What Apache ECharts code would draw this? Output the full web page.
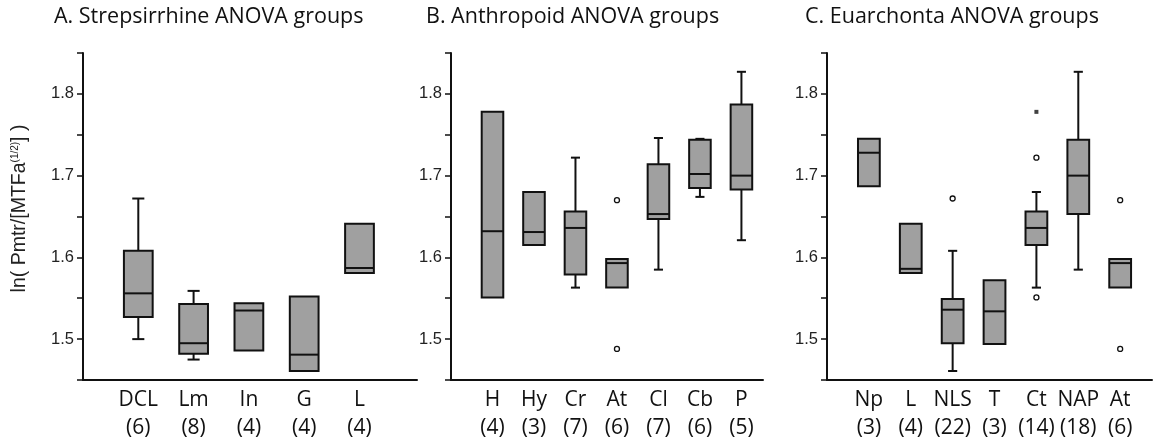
<!DOCTYPE html>
<html>
<head>
<meta charset="utf-8">
<script src="https://cdn.jsdelivr.net/npm/echarts@6/dist/echarts.min.js"></script>
<style>
  html, body { margin: 0; padding: 0; background: #fff; }
  #chart { width: 1153px; height: 444px; }
</style>
</head>
<body>
<div id="chart"></div>
<script>
// group names and sample sizes
const groupsA = ['DCL', 'Lm', 'In', 'G', 'L']
const countsA = [6, 8, 4, 4, 4]
const groupsB = ['H', 'Hy', 'Cr', 'At', 'Cl', 'Cb', 'P']
const countsB = [4, 3, 7, 6, 7, 6, 5]
const groupsC = ['Np', 'L', 'NLS', 'T', 'Ct', 'NAP', 'At']
const countsC = [3, 4, 22, 3, 14, 18, 6]

// [low whisker, Q1, median, Q3, high whisker]
const statsA = [
  [1.500, 1.527, 1.556, 1.608, 1.672],
  [1.475, 1.482, 1.495, 1.543, 1.559],
  [1.486, 1.486, 1.535, 1.544, 1.544],
  [1.461, 1.461, 1.481, 1.552, 1.552],
  [1.581, 1.581, 1.587, 1.641, 1.641],
]
const statsB = [
  [1.551, 1.551, 1.632, 1.778, 1.778],
  [1.615, 1.615, 1.631, 1.680, 1.680],
  [1.563, 1.579, 1.636, 1.656, 1.722],
  [1.563, 1.563, 1.593, 1.598, 1.598],
  [1.585, 1.647, 1.653, 1.714, 1.746],
  [1.674, 1.685, 1.702, 1.744, 1.745],
  [1.621, 1.683, 1.700, 1.787, 1.827],
]
const statsC = [
  [1.687, 1.687, 1.728, 1.745, 1.745],
  [1.581, 1.581, 1.586, 1.641, 1.641],
  [1.461, 1.495, 1.536, 1.549, 1.608],
  [1.494, 1.494, 1.534, 1.572, 1.572],
  [1.563, 1.615, 1.636, 1.656, 1.680],
  [1.585, 1.653, 1.700, 1.744, 1.827],
  [1.563, 1.563, 1.593, 1.598, 1.598],
]

// outliers: [group index, value]
const outliersB = [[3, 1.670], [3, 1.488]]
const outliersC = [[2, 1.672], [4, 1.722], [4, 1.551], [6, 1.670], [6, 1.488]]
const extremesC = [[4, 1.778]]

const yTicks = [1.5, 1.6, 1.7, 1.8]

const titles = [
  'A. Strepsirrhine ANOVA groups',
  'B. Anthropoid ANOVA groups',
  'C. Euarchonta ANOVA groups',
]

const INK = '#111'
const BOX_FILL = '#a0a0a0'

const panels = [
  { groups: groupsA, counts: countsA, stats: statsA, outliers: [], extremes: [],
    grid: { left: 83, top: 53, width: 334, height: 327 }, xMax: 6.04 },
  { groups: groupsB, counts: countsB, stats: statsB, outliers: outliersB, extremes: [],
    grid: { left: 451, top: 53, width: 312, height: 327 }, xMax: 7.52 },
  { groups: groupsC, counts: countsC, stats: statsC, outliers: outliersC, extremes: extremesC,
    grid: { left: 827, top: 53, width: 325, height: 327 }, xMax: 7.76 },
]

function renderBox(params, api) {
  const x = api.value(0)
  const lo = api.value(1), q1 = api.value(2), med = api.value(3), q3 = api.value(4), hi = api.value(5)
  const cx = api.coord([x, med])[0]
  const unit = api.size([1, 0])[0]
  const half = unit * 0.26
  const cap = half * 0.42
  const yLo = api.coord([x, lo])[1]
  const yQ1 = api.coord([x, q1])[1]
  const yMed = api.coord([x, med])[1]
  const yQ3 = api.coord([x, q3])[1]
  const yHi = api.coord([x, hi])[1]
  const line = { stroke: INK, lineWidth: 2 }
  const children = []
  if (hi > q3) {
    children.push({ type: 'line', shape: { x1: cx, y1: yHi, x2: cx, y2: yQ3 }, style: line })
    children.push({ type: 'line', shape: { x1: cx - cap, y1: yHi, x2: cx + cap, y2: yHi }, style: line })
  }
  if (lo < q1) {
    children.push({ type: 'line', shape: { x1: cx, y1: yQ1, x2: cx, y2: yLo }, style: line })
    children.push({ type: 'line', shape: { x1: cx - cap, y1: yLo, x2: cx + cap, y2: yLo }, style: line })
  }
  children.push({
    type: 'rect',
    shape: { x: cx - half, y: yQ3, width: half * 2, height: yQ1 - yQ3 },
    style: { fill: BOX_FILL, stroke: INK, lineWidth: 2 },
  })
  children.push({ type: 'line', shape: { x1: cx - half, y1: yMed, x2: cx + half, y2: yMed }, style: line })
  return { type: 'group', children }
}

const grid = [], xAxis = [], yAxis = [], series = [], title = []

panels.forEach((p, i) => {
  grid.push(p.grid)
  xAxis.push({
    gridIndex: i,
    type: 'value',
    min: 0,
    max: p.xMax,
    interval: 1,
    splitLine: { show: false },
    axisTick: { show: false },
    axisLine: { show: true, onZero: false, lineStyle: { color: INK, width: 2 } },
    axisLabel: {
      showMaxLabel: false,
      margin: 6,
      formatter: (v) => {
        const k = Math.round(v)
        if (Math.abs(v - k) > 1e-6 || k < 1 || k > p.groups.length) return ''
        return p.groups[k - 1] + '\n(' + p.counts[k - 1] + ')'
      },
      color: '#111',
      fontFamily: 'Open Sans',
      fontSize: 21,
      lineHeight: 28,
    },
  })
  yAxis.push({
    gridIndex: i,
    type: 'value',
    min: 1.45,
    max: 1.85,
    interval: 0.05,
    splitLine: { show: false },
    axisLine: { show: true, onZero: false, lineStyle: { color: INK, width: 2 } },
    axisTick: { show: true, length: 6, lineStyle: { color: INK, width: 1.5 } },
    axisLabel: {
      margin: 9,
      formatter: (v) => {
        const hit = yTicks.find((t) => Math.abs(t - v) < 1e-6)
        return hit === undefined ? '' : hit.toFixed(1)
      },
      color: '#222',
      fontFamily: 'Liberation Sans',
      fontSize: 16.5,
    },
    name: i === 0 ? 'ln( Pmtr/[MTFa{sup|(1/2)}] )' : '',
    nameLocation: 'middle',
    nameRotate: 90,
    nameGap: 53,
    nameTextStyle: {
      color: '#222',
      fontFamily: 'Liberation Sans',
      fontSize: 19.5,
      padding: [0, 0, 0, 16],
      rich: {
        sup: { fontSize: 10, verticalAlign: 'top', padding: [0, 0, 9, 0], fontFamily: 'Liberation Sans', color: '#222' },
      },
    },
  })
  series.push({
    type: 'custom',
    xAxisIndex: i,
    yAxisIndex: i,
    renderItem: renderBox,
    encode: { x: 0, y: [1, 2, 3, 4, 5] },
    data: p.stats.map((s, k) => [k + 1].concat(s)),
    silent: true,
  })
  if (p.outliers.length) {
    series.push({
      type: 'scatter',
      xAxisIndex: i,
      yAxisIndex: i,
      symbol: 'circle',
      symbolSize: 5,
      itemStyle: { color: '#fff', borderColor: INK, borderWidth: 1.3, opacity: 1 },
      data: p.outliers.map(([k, v]) => [k + 1, v]),
      silent: true,
    })
  }
  if (p.extremes.length) {
    series.push({
      type: 'scatter',
      xAxisIndex: i,
      yAxisIndex: i,
      symbol: 'rect',
      symbolSize: 4,
      itemStyle: { color: INK },
      data: p.extremes.map(([k, v]) => [k + 1, v]),
      silent: true,
    })
  }
})

const titleLeft = [49, 421, 800]
titles.forEach((t, i) => {
  title.push({
    text: t,
    left: titleLeft[i],
    top: 1,
    textStyle: { fontFamily: 'Open Sans', fontWeight: 'normal', fontSize: 21.5, color: '#111' },
  })
})

const chart = echarts.init(document.getElementById('chart'), null, { renderer: 'canvas' })
chart.setOption({
  animation: false,
  backgroundColor: '#fff',
  title,
  grid,
  xAxis,
  yAxis,
  series,
})
</script>
</body>
</html>
